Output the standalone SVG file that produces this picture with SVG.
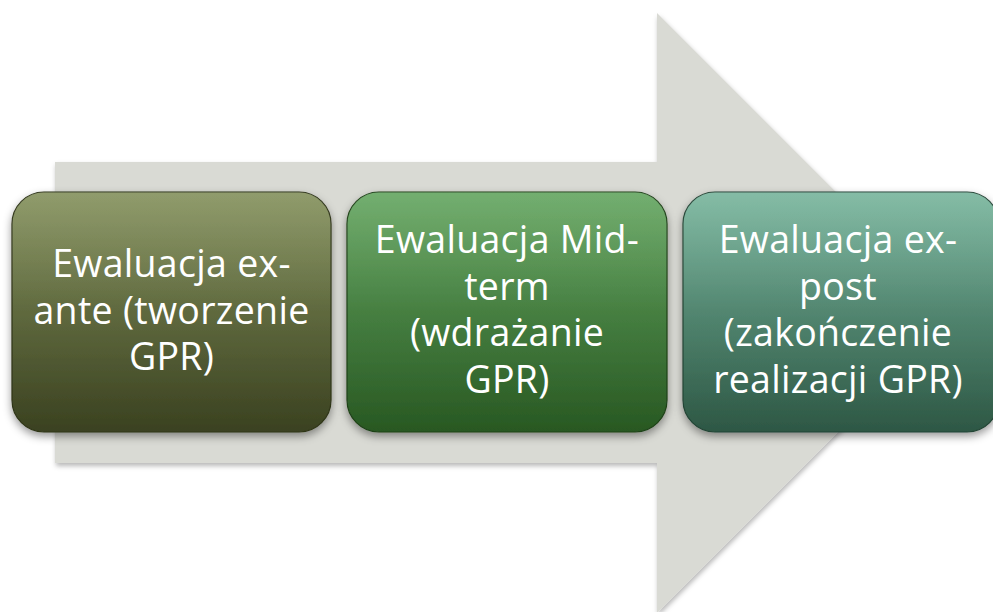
<svg xmlns="http://www.w3.org/2000/svg" width="993" height="612" viewBox="0 0 993 612">
<defs>
<style>
.lbl{font-family:"Open Sans","Lato","Liberation Sans",sans-serif;font-size:37.5px;fill:#ffffff;text-anchor:middle;letter-spacing:0.3px}
.box{stroke-width:1.2}
</style>
<filter id="ashadow" x="-5%" y="-5%" width="110%" height="110%">
<feDropShadow dx="1" dy="3" stdDeviation="2.5" flood-color="#000" flood-opacity="0.28"/>
</filter>
<filter id="bshadow" x="-10%" y="-10%" width="120%" height="125%">
<feDropShadow dx="0" dy="4" stdDeviation="4" flood-color="#000" flood-opacity="0.4"/>
</filter>
<linearGradient id="g1" x1="0" y1="0" x2="0" y2="1">
<stop offset="0" stop-color="#84915c"/>
<stop offset="1" stop-color="#3a4120"/>
</linearGradient>
<linearGradient id="g2" x1="0" y1="0" x2="0" y2="1">
<stop offset="0" stop-color="#64a660"/>
<stop offset="1" stop-color="#285822"/>
</linearGradient>
<linearGradient id="g3" x1="0" y1="0" x2="0" y2="1">
<stop offset="0" stop-color="#77b59c"/>
<stop offset="1" stop-color="#2d5744"/>
</linearGradient>
<linearGradient id="gloss" x1="0" y1="0" x2="0" y2="1">
<stop offset="0" stop-color="#ffffff" stop-opacity="0.1"/>
<stop offset="0.5" stop-color="#ffffff" stop-opacity="0"/>
</linearGradient>
</defs>
<rect x="0" y="0" width="993" height="612" fill="#ffffff"/>
<g id="connectors">
<polygon id="arrow" points="55,162 657,162 657,13 957,313 657,613 657,463 55,463" fill="#d9dad4" filter="url(#ashadow)"/>
</g>
<g id="node1">
<rect class="box" x="12" y="192" width="319" height="240" rx="32" fill="url(#g1)" stroke="#2f3519" filter="url(#bshadow)"/>
<rect x="12" y="192" width="319" height="240" rx="32" fill="url(#gloss)"/>
<text class="lbl" x="171.5" y="277">Ewaluacja ex-</text>
<text class="lbl" x="171.5" y="323.5">ante (tworzenie</text>
<text class="lbl" x="171.5" y="370">GPR)</text>
</g>
<g id="node2">
<rect class="box" x="347" y="192" width="320" height="240" rx="32" fill="url(#g2)" stroke="#1f4219" filter="url(#bshadow)"/>
<rect x="347" y="192" width="320" height="240" rx="32" fill="url(#gloss)"/>
<text class="lbl" x="507" y="253">Ewaluacja Mid-</text>
<text class="lbl" x="507" y="299.5">term</text>
<text class="lbl" x="507" y="346">(wdrażanie</text>
<text class="lbl" x="507" y="392.5">GPR)</text>
</g>
<g id="node3">
<rect class="box" x="683" y="192" width="316" height="240" rx="32" fill="url(#g3)" stroke="#244536" filter="url(#bshadow)"/>
<rect x="683" y="192" width="316" height="240" rx="32" fill="url(#gloss)"/>
<text class="lbl" x="838" y="253">Ewaluacja ex-</text>
<text class="lbl" x="838" y="299.5">post</text>
<text class="lbl" x="838" y="346">(zakończenie</text>
<text class="lbl" x="838" y="392.5">realizacji GPR)</text>
</g>
</svg>
